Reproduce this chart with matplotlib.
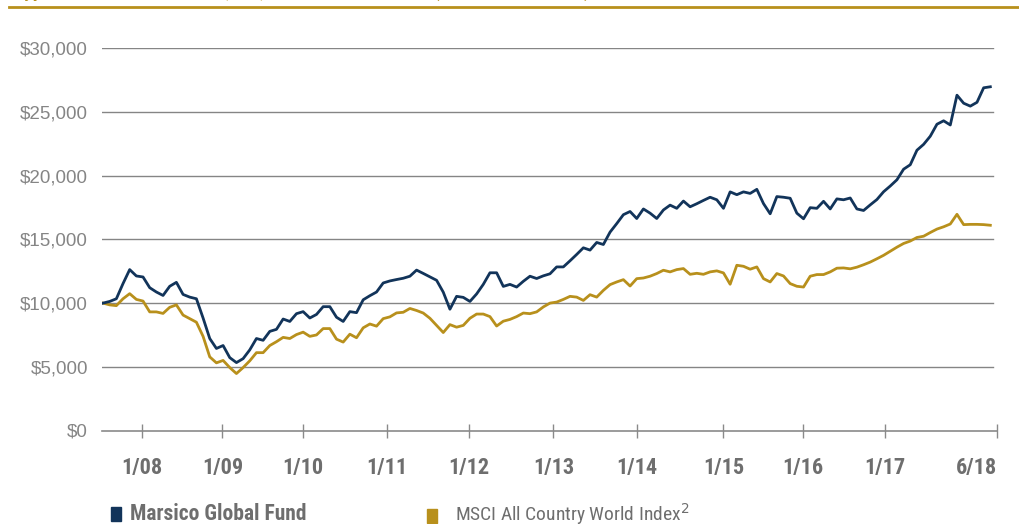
import numpy as np
import matplotlib
matplotlib.use("Agg")
import matplotlib.pyplot as plt
import matplotlib.transforms as mtransforms
from matplotlib import font_manager
from matplotlib.patches import Rectangle

# Month-end values of a hypothetical $10,000 investment, 6/07 .. 6/18
fund = [10000, 10130, 10340, 11530, 12630, 12130, 12050, 11210, 10870, 10600,
        11320, 11630, 10680, 10470, 10340, 8830, 7220, 6440, 6670, 5720,
        5330, 5640, 6330, 7220, 7080, 7780, 7940, 8750, 8560, 9170,
        9330, 8830, 9110, 9720, 9720, 8890, 8560, 9330, 9250, 10260,
        10580, 10870, 11580, 11740, 11850, 11950, 12110, 12590, 12330, 12060,
        11790, 10860, 9520, 10530, 10450, 10130, 10720, 11470, 12380, 12380,
        11310, 11470, 11260, 11710, 12110, 11930, 12140, 12300, 12840, 12840,
        13320, 13820, 14340, 14160, 14760, 14600, 15570, 16240, 16940, 17190,
        16640, 17390, 17060, 16640, 17310, 17690, 17440, 18010, 17560, 17800,
        18060, 18310, 18110, 17440, 18730, 18510, 18730, 18610, 18930, 17810,
        17010, 18360, 18310, 18230, 17060, 16620, 17490, 17440, 17990, 17390,
        18180, 18110, 18250, 17390, 17270, 17710, 18130, 18740, 19190, 19680,
        20510, 20860, 22000, 22460, 23100, 24040, 24310, 23980, 26320, 25690,
        25460, 25760, 26900, 26980]

index = [10000, 9860, 9800, 10340, 10740, 10290, 10160, 9310, 9310, 9190,
         9670, 9860, 9060, 8780, 8500, 7390, 5780, 5310, 5500, 4940,
         4470, 4940, 5470, 6110, 6110, 6670, 6970, 7310, 7220, 7530,
         7720, 7390, 7500, 8000, 8000, 7170, 6940, 7560, 7280, 8060,
         8360, 8190, 8780, 8920, 9230, 9280, 9580, 9420, 9220, 8810,
         8250, 7690, 8310, 8110, 8250, 8810, 9140, 9140, 8940, 8200,
         8580, 8720, 8940, 9220, 9170, 9310, 9700, 10000, 10080, 10290,
         10530, 10470, 10210, 10660, 10470, 11000, 11450, 11660, 11840, 11340,
         11920, 11970, 12110, 12320, 12580, 12450, 12630, 12710, 12260, 12340,
         12260, 12450, 12530, 12370, 11480, 12970, 12890, 12660, 12840, 11920,
         11660, 12320, 12130, 11530, 11320, 11260, 12110, 12240, 12240, 12450,
         12740, 12760, 12690, 12820, 13010, 13220, 13480, 13750, 14070, 14390,
         14680, 14870, 15150, 15250, 15540, 15810, 15990, 16210, 16970, 16160,
         16180, 16180, 16160, 16110]

x_labels = ["1/08", "1/09", "1/10", "1/11", "1/12", "1/13", "1/14",
            "1/15", "1/16", "1/17", "6/18"]
x_ticks = [5.8, 17.9, 30.0, 42.5, 54.8, 67.5, 80.0, 93.0, 104.9, 117.2, 134.0]
y_ticks = [0, 5000, 10000, 15000, 20000, 25000, 30000]

NAVY = "#12345a"
GOLD = "#b8901c"
GREY = "#858585"
DARKGREY = "#6e6e6e"

# pick a narrow face if one is installed, otherwise fall back
names = {f.name for f in font_manager.fontManager.ttflist}
dejavu_cond = any(f.name == "DejaVu Sans" and f.stretch == "condensed"
                  for f in font_manager.fontManager.ttflist)
narrow = None
for cand in ["Liberation Sans Narrow", "Roboto Condensed", "Open Sans Condensed",
             "Arial Narrow"]:
    if cand in names:
        narrow = cand
        break
if narrow is not None:
    NARROW = dict(family=[narrow, "DejaVu Sans"])
elif dejavu_cond:
    NARROW = dict(family=["DejaVu Sans"], stretch="condensed")
else:
    NARROW = dict(family=["Liberation Sans", "DejaVu Sans"])
SANS = dict(family=["Liberation Sans", "DejaVu Sans"])

fig = plt.figure(figsize=(10.2, 5.24), dpi=100)
ax = fig.add_axes([102 / 1020, 93.5 / 524, 895 / 1020, 382.2 / 524])

xs = np.arange(len(fund))
ax.plot(xs, index, color=GOLD, lw=2.0, solid_joinstyle="round", zorder=3)
ax.plot(xs, fund, color=NAVY, lw=2.0, solid_joinstyle="round", zorder=4)

ax.set_xlim(-0.15, 133.8)
ax.set_ylim(0, 30000)

ax.set_yticks(y_ticks)
ax.set_yticklabels(["${:,}".format(v) for v in y_ticks],
                   fontsize=13.5, color=GREY, **SANS)
ax.tick_params(axis="y", length=0, pad=10)
for v in y_ticks[1:]:
    ax.axhline(v, xmax=0.995, color="#858585", lw=1.0, zorder=1)

ax.set_xticks(x_ticks)
ax.set_xticklabels(x_labels, fontsize=16, fontweight="bold", color=DARKGREY,
                   **NARROW)
last = ax.get_xticklabels()[-1]
last.set_horizontalalignment("right")
last.set_transform(last.get_transform() +
                   mtransforms.ScaledTranslation(4 / 100, 0, fig.dpi_scale_trans))
ax.tick_params(axis="x", direction="inout", length=10, width=1.0,
               color="#8a8a8a", pad=14)

for s in ["top", "right", "left"]:
    ax.spines[s].set_visible(False)
ax.spines["bottom"].set_color("#8a8a8a")
ax.spines["bottom"].set_linewidth(1.2)

# header rule and the clipped title above it
fig.add_artist(plt.Line2D([9 / 1020, 1.0], [1 - 7 / 524, 1 - 7 / 524],
                          color=GOLD, lw=2.0))
fig.text(12 / 1020, 1 + 3 / 524,
         "Hypothetical Growth of $10,000, Marsico Global Fund (6/29/07 \u2013 6/30/18)",
         color=GOLD, fontsize=14, fontweight="bold", va="baseline", ha="left",
         **NARROW)

# legend
fig.add_artist(Rectangle((111 / 1020, 1 - 521 / 524), 10 / 1020, 14 / 524,
                         transform=fig.transFigure, color=NAVY))
fig.text(130 / 1020, 1 - 514 / 524, "Marsico Global Fund", fontsize=15.5,
         fontweight="bold", color=DARKGREY, va="center", **NARROW)
fig.add_artist(Rectangle((427 / 1020, 1 - 523 / 524), 10 / 1020, 14 / 524,
                         transform=fig.transFigure, color=GOLD))
fig.text(455 / 1020, 1 - 514 / 524, "MSCI All Country World Index$^{2}$",
         fontsize=14, color=DARKGREY, va="center", **NARROW)

fig.savefig("out.png", dpi=100)
